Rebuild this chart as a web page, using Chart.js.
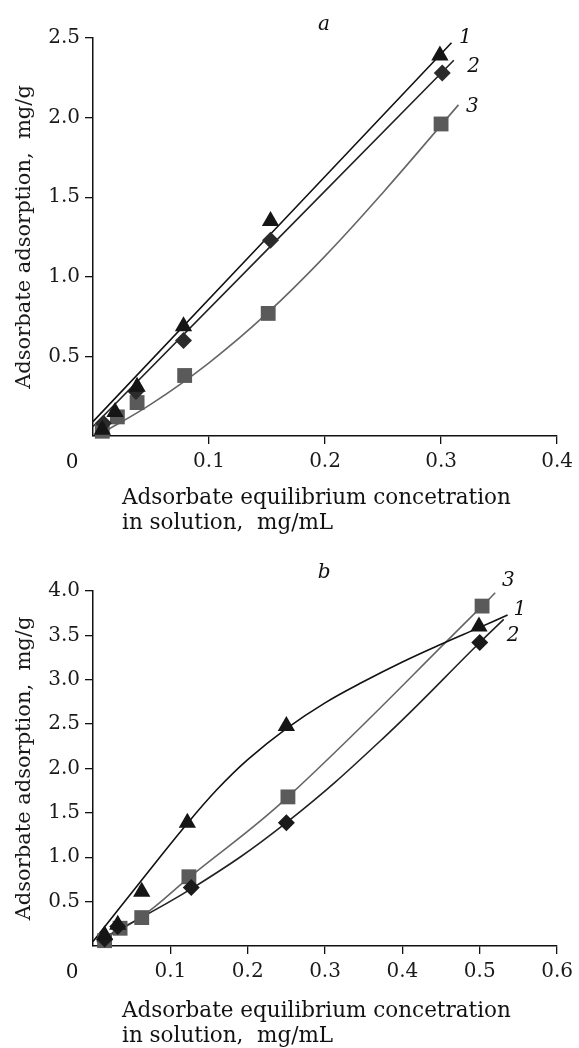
<!DOCTYPE html>
<html>
<head>
<meta charset="utf-8">
<script src="https://cdn.jsdelivr.net/npm/chart.js@4.4.0/dist/chart.umd.min.js"></script>
<style>
  html, body { margin: 0; padding: 0; background: #fff; }
  #wrap { position: relative; width: 579px; height: 1048px; }
  canvas { position: absolute; left: 0; }
</style>
</head>
<body>
<div id="wrap">
  <canvas id="chartA" width="579" height="540" style="top:0"></canvas>
  <canvas id="chartB" width="579" height="508" style="top:540px"></canvas>
</div>
<script>
// panel a - measured points
const aTriX = [0.008, 0.019, 0.038, 0.078, 0.153, 0.299];
const aTriY = [0.04, 0.15, 0.31, 0.69, 1.35, 2.39];
const aDiaX = [0.009, 0.037, 0.078, 0.153, 0.301];
const aDiaY = [0.08, 0.28, 0.60, 1.23, 2.28];
const aSqX = [0.008, 0.021, 0.038, 0.079, 0.151, 0.300];
const aSqY = [0.03, 0.12, 0.21, 0.38, 0.77, 1.96];
// panel a - fitted curves
const aFit1X = [0, 0.309];
const aFit1Y = [0.09, 2.47];
const aFit2X = [0, 0.311];
const aFit2Y = [0.06, 2.36];
const aFit3X = [0.008, 0.05, 0.1, 0.15, 0.2, 0.25, 0.315];
const aFit3Y = [0.02, 0.2, 0.46, 0.77, 1.13, 1.53, 2.08];

// panel b - measured points
const bTriX = [0.015, 0.032, 0.063, 0.122, 0.25, 0.499];
const bTriY = [0.12, 0.24, 0.61, 1.39, 2.48, 3.60];
const bDiaX = [0.015, 0.032, 0.127, 0.25, 0.5];
const bDiaY = [0.08, 0.22, 0.66, 1.39, 3.42];
const bSqX = [0.015, 0.035, 0.063, 0.124, 0.252, 0.503];
const bSqY = [0.06, 0.2, 0.32, 0.78, 1.68, 3.83];
// panel b - fitted curves
const bFit1X = [0, 0.06, 0.12, 0.16, 0.2, 0.25, 0.3, 0.35, 0.4, 0.45, 0.5, 0.536];
const bFit1Y = [0.05, 0.71, 1.36, 1.76, 2.10, 2.45, 2.74, 2.98, 3.20, 3.40, 3.59, 3.73];
const bFit2X = [0.005, 0.13, 0.25, 0.375, 0.5, 0.531];
const bFit2Y = [0.05, 0.66, 1.39, 2.34, 3.42, 3.68];
const bFit3X = [0.005, 0.063, 0.124, 0.252, 0.503, 0.52];
const bFit3Y = [0.04, 0.33, 0.77, 1.68, 3.83, 3.98];

const yTitle = "Adsorbate adsorption,  mg/g";
const xTitle = ["Adsorbate equilibrium concetration", "in solution,  mg/mL"];

const FONT = '"DejaVu Serif", "Liberation Serif", serif';
const pts = (xs, ys) => xs.map((x, i) => ({ x: x, y: ys[i] }));

const annotate = {
  id: "annotate",
  afterDraw(chart, args, opts) {
    const { ctx, chartArea } = chart;
    const x = chart.scales.x, y = chart.scales.y;
    ctx.save();
    ctx.fillStyle = "#111";
    ctx.textAlign = "center";
    ctx.textBaseline = "middle";
    ctx.font = "italic 20px " + FONT;
    opts.marks.forEach((m) => {
      ctx.fillText(m.text, x.getPixelForValue(m.x), y.getPixelForValue(m.y));
    });
    ctx.font = "20px " + FONT;
    ctx.fillText("0", chartArea.left - 21, chartArea.bottom + 27);
    ctx.font = "21.5px " + FONT;
    ctx.textAlign = "left";
    xTitle.forEach((line, i) => {
      ctx.fillText(line, chartArea.left + 29, chartArea.bottom + opts.titleTop + i * 25);
    });
    ctx.restore();
  },
};

function markers(xs, ys, style, radius, color) {
  return {
    data: pts(xs, ys),
    pointStyle: style,
    pointRadius: radius,
    backgroundColor: color,
    borderColor: color,
    borderWidth: 0,
    showLine: false,
    clip: false,
    order: 0,
  };
}

function curve(xs, ys, color) {
  return {
    data: pts(xs, ys),
    showLine: true,
    borderColor: color,
    borderWidth: 1.6,
    pointRadius: 0,
    tension: 0.4,
    clip: false,
    order: 1,
  };
}

function makeChart(id, datasets, xMax, yMax, topPad, xHeight, marks, titleTop) {
  new Chart(document.getElementById(id), {
    type: "scatter",
    data: { datasets: datasets },
    plugins: [annotate],
    options: {
      responsive: false,
      animation: false,
      layout: { padding: { left: 0, right: 17, top: topPad, bottom: 0 } },
      plugins: {
        legend: { display: false },
        tooltip: { enabled: false },
        annotate: { marks: marks, titleTop: titleTop },
      },
      scales: {
        x: {
          type: "linear",
          min: 0,
          max: xMax,
          afterFit: (s) => { s.height = xHeight; },
          afterBuildTicks: (s) => { s.ticks = s.ticks.filter((t) => t.value > 1e-9); },
          ticks: {
            stepSize: 0.1,
            autoSkip: false,
            maxRotation: 0,
            padding: 6,
            color: "#1a1a1a",
            font: { family: FONT, size: 20 },
            callback: (v) => v.toFixed(1),
          },
          grid: { drawOnChartArea: false, drawTicks: true, tickLength: 8, color: "#111", lineWidth: 1.3 },
          border: { display: true, color: "#111", width: 1.5 },
        },
        y: {
          type: "linear",
          min: 0,
          max: yMax,
          afterFit: (s) => { s.width = 93; },
          afterBuildTicks: (s) => { s.ticks = s.ticks.filter((t) => t.value > 1e-9); },
          ticks: {
            stepSize: 0.5,
            padding: 5,
            color: "#1a1a1a",
            font: { family: FONT, size: 20 },
            callback: (v) => v.toFixed(1),
          },
          grid: { drawOnChartArea: false, drawTicks: true, tickLength: 8, color: "#111", lineWidth: 1.3 },
          border: { display: true, color: "#111", width: 1.5 },
          title: {
            display: true,
            text: yTitle,
            color: "#1a1a1a",
            font: { family: FONT, size: 21 },
            padding: { top: 12, bottom: 0 },
          },
        },
      },
    },
  });
}

makeChart("chartA", [
  markers(aTriX, aTriY, "triangle", 10, "#151515"),
  markers(aDiaX, aDiaY, "rectRot", 8.5, "#2b2b2b"),
  markers(aSqX, aSqY, "rect", 10.5, "#5a5a5a"),
  curve(aFit1X, aFit1Y, "#111"),
  curve(aFit2X, aFit2Y, "#222"),
  curve(aFit3X, aFit3Y, "#666"),
], 0.4, 2.5, 38, 104, [
  { text: "a", x: 0.199, y: 2.58 },
  { text: "1", x: 0.321, y: 2.50 },
  { text: "2", x: 0.328, y: 2.32 },
  { text: "3", x: 0.327, y: 2.07 },
], 62);

makeChart("chartB", [
  markers(bTriX, bTriY, "triangle", 10, "#151515"),
  markers(bDiaX, bDiaY, "rectRot", 8.5, "#1a1a1a"),
  markers(bSqX, bSqY, "rect", 10.5, "#5a5a5a"),
  curve(bFit1X, bFit1Y, "#111"),
  curve(bFit2X, bFit2Y, "#222"),
  curve(bFit3X, bFit3Y, "#666"),
], 0.6, 4.0, 51, 102, [
  { text: "b", x: 0.299, y: 4.21 },
  { text: "3", x: 0.537, y: 4.12 },
  { text: "1", x: 0.552, y: 3.79 },
  { text: "2", x: 0.543, y: 3.49 },
], 65);
</script>
</body>
</html>
